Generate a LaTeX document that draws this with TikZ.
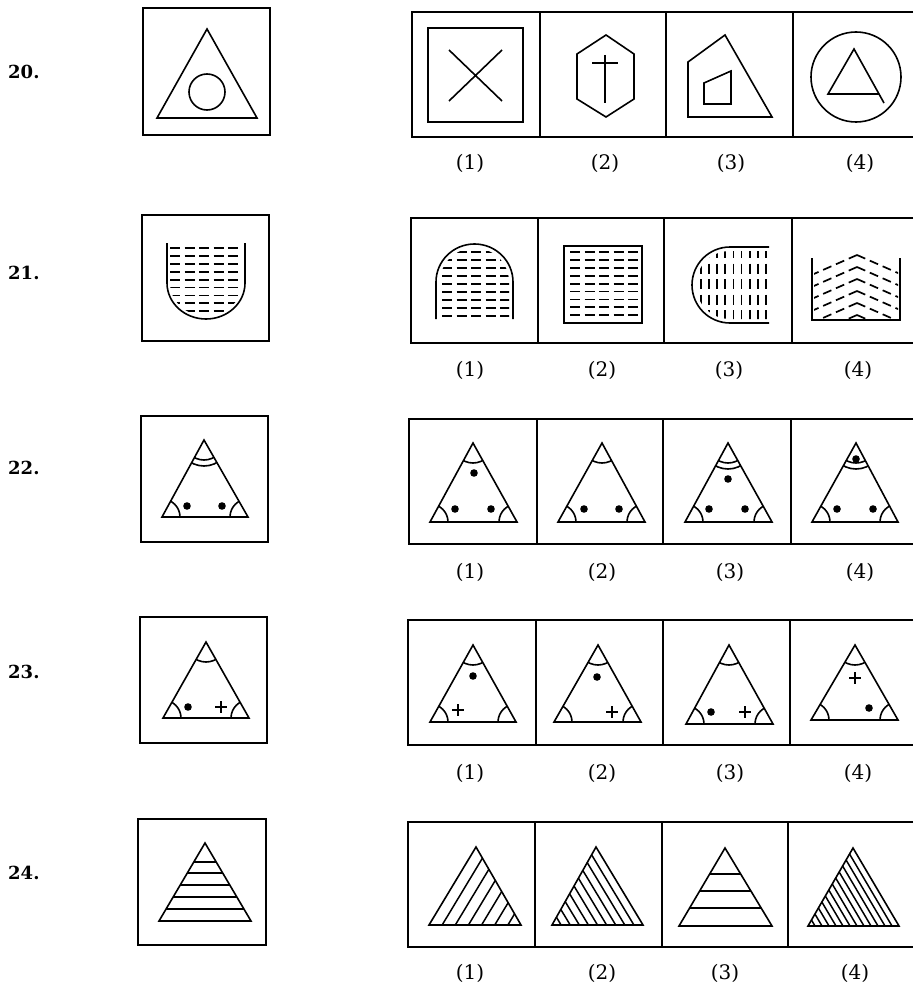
\documentclass[tikz,border=0pt]{standalone}
\usepackage{fontspec}
\newfontfamily\labelfont{DejaVu Serif}
\tikzset{
  fig/.style={line width=1.6pt, line join=miter},
  frame/.style={line width=1.5pt},
  dashrow/.style={line width=1.8pt, dash pattern=on 10pt off 4.5pt},
  dashcol/.style={line width=1.8pt, dash pattern=on 10pt off 5.5pt},
  chev/.style={line width=1.7pt, dash pattern=on 9pt off 5pt},
  hatch/.style={line width=1.5pt},
  optlabel/.style={font=\labelfont\fontsize{20}{24}\selectfont, inner sep=0pt},
  qnum/.style={font=\labelfont\bfseries\fontsize{18}{22}\selectfont, anchor=west, inner sep=0pt},
}
\newcommand{\anglestri}[6]{% apex x, apex y, left x, right x, base y, double arc (1/0)
  \draw[fig] (#1,#2) -- (#3,#5) -- (#4,#5) -- cycle;
  \begin{scope}
    \clip (#1,#2) -- (#3,#5) -- (#4,#5) -- cycle;
    \draw[fig] (#1,#2) circle[radius=20];
    \ifnum#6=1 \draw[fig] (#1,#2) circle[radius=26];\fi
    \draw[fig] (#3,#5) circle[radius=18];
    \draw[fig] (#4,#5) circle[radius=18];
  \end{scope}}
\newcommand{\dotat}[2]{\fill (#1,#2) circle[radius=3.8];}
\newcommand{\plusat}[2]{\draw[fig] (#1-6,#2) -- (#1+6,#2) (#1,#2-6) -- (#1,#2+6);}
\newcommand{\optstrip}[6]{% left, top, bottom, d1, d2, d3
  \draw[frame] (913,#2) -- (#1,#2) -- (#1,#3) -- (913,#3);
  \draw[frame] (#4,#2) -- (#4,#3) (#5,#2) -- (#5,#3) (#6,#2) -- (#6,#3);}
\begin{document}
\begin{tikzpicture}[x=1pt,y=-1pt]
\useasboundingbox (0,0) rectangle (913,987);
\fill[white] (0,0) rectangle (913,987);

% ---------------- Row 20 ----------------
\node[qnum] (q20) at (8,72) {20.};
\draw[frame] (143,8) rectangle (270,135);
\draw[fig] (207,29) -- (157,118) -- (257,118) -- cycle;
\draw[fig] (207,92) circle[radius=18];
\optstrip{412}{12}{137}{540}{666}{793}
% opt 1
\draw[fig] (428,28) rectangle (523,122);
\draw[fig] (449,50) -- (502,101) (502,50) -- (449,101);
% opt 2
\draw[fig] (606,35) -- (634,54) -- (634,99) -- (606,117) -- (577,99) -- (577,54) -- cycle;
\draw[fig] (605,55) -- (605,103) (592,63) -- (618,63);
% opt 3
\draw[fig] (688,117) -- (688,62) -- (725,35) -- (772,117) -- cycle;
\draw[fig] (704,83) -- (731,71) -- (731,104) -- (704,104) -- cycle;
% opt 4
\draw[fig] (856,77) circle[radius=45];
\draw[fig] (884,103) -- (854,49) -- (828,94) -- (879,94);
\node[optlabel] (l20a) at (470,163) {(1)};
\node[optlabel] (l20b) at (605,163) {(2)};
\node[optlabel] (l20c) at (731,163) {(3)};
\node[optlabel] (l20d) at (860,163) {(4)};

% ---------------- Row 21 ----------------
\node[qnum] (q21) at (8,273) {21.};
\draw[frame] (142,215) rectangle (269,341);
\draw[fig] (167,243) -- (167,283) arc[start angle=180, end angle=0, x radius=39, y radius=36] -- (245,243);
\begin{scope}
  \clip (170,240) -- (170,283) arc[start angle=180, end angle=0, x radius=36, y radius=33] -- (242,240) -- cycle;
  \foreach \k in {0,...,8} { \draw[dashrow] (170,248+7.9*\k) -- (244,248+7.9*\k); }
\end{scope}
\optstrip{411}{218}{343}{538}{664}{792}
% opt 1
\draw[fig] (436,319) -- (436,282) arc[start angle=180, end angle=360, x radius=38.5, y radius=38] -- (513,319);
\begin{scope}
  \clip (440,322) -- (440,282) arc[start angle=180, end angle=360, x radius=34.5, y radius=34] -- (509,322) -- cycle;
  \foreach \k in {0,...,8} { \draw[dashrow] (442,252+8*\k) -- (510,252+8*\k); }
\end{scope}
% opt 2
\draw[fig] (564,246) rectangle (642,323);
\foreach \k in {0,...,8} { \draw[dashrow] (570,252+7.9*\k) -- (638,252+7.9*\k); }
% opt 3
\draw[fig] (769,247) -- (730,247) arc[start angle=270, end angle=90, radius=38] -- (769,323);
\begin{scope}
  \clip (770,251) -- (730,251) arc[start angle=270, end angle=90, radius=34] -- (770,319) -- cycle;
  \foreach \k in {0,...,8} { \draw[dashcol] (701+8.1*\k,248) -- (701+8.1*\k,322); }
\end{scope}
% opt 4
\draw[fig] (812,258) -- (812,320) -- (900,320) -- (900,258);
\begin{scope}
  \clip (814,245) rectangle (898,318);
  \foreach \k in {0,...,5} {
    \draw[chev] (857,255+12*\k) -- ++(-50,22);
    \draw[chev] (857,255+12*\k) -- ++(50,22);
  }
\end{scope}
\node[optlabel] (l21a) at (470,370) {(1)};
\node[optlabel] (l21b) at (602,370) {(2)};
\node[optlabel] (l21c) at (729,370) {(3)};
\node[optlabel] (l21d) at (858,370) {(4)};

% ---------------- Row 22 ----------------
\node[qnum] (q22) at (8,468) {22.};
\draw[frame] (141,416) rectangle (268,542);
\anglestri{204}{440}{162}{248}{517}{1}
\dotat{187}{506} \dotat{222}{506}
\optstrip{409}{419}{544}{537}{663}{791}
\anglestri{473}{443}{430}{517}{522}{0}
\dotat{474}{473} \dotat{455}{509} \dotat{491}{509}
\anglestri{602}{443}{558}{645}{522}{0}
\dotat{584}{509} \dotat{619}{509}
\anglestri{728}{443}{685}{772}{522}{1}
\dotat{728}{479} \dotat{709}{509} \dotat{745}{509}
\anglestri{856}{443}{812}{898}{522}{1}
\dotat{856}{459} \dotat{837}{509} \dotat{873}{509}
\node[optlabel] (l22a) at (470,572) {(1)};
\node[optlabel] (l22b) at (602,572) {(2)};
\node[optlabel] (l22c) at (730,572) {(3)};
\node[optlabel] (l22d) at (860,572) {(4)};

% ---------------- Row 23 ----------------
\node[qnum] (q23) at (8,672) {23.};
\draw[frame] (140,617) rectangle (267,743);
\anglestri{206}{642}{163}{249}{718}{0}
\dotat{188}{707} \plusat{221}{707}
\optstrip{408}{620}{745}{536}{663}{790}
\anglestri{473}{645}{430}{516}{722}{0}
\dotat{473}{676} \plusat{458}{710}
\anglestri{598}{645}{554}{641}{722}{0}
\dotat{597}{677} \plusat{612}{712}
\anglestri{729}{645}{686}{773}{724}{0}
\dotat{711}{712} \plusat{745}{712}
\anglestri{855}{645}{811}{898}{720}{0}
\plusat{855}{678} \dotat{869}{708}
\node[optlabel] (l23a) at (470,773) {(1)};
\node[optlabel] (l23b) at (602,773) {(2)};
\node[optlabel] (l23c) at (730,773) {(3)};
\node[optlabel] (l23d) at (858,773) {(4)};

% ---------------- Row 24 ----------------
\node[qnum] (q24) at (8,873) {24.};
\draw[frame] (138,819) rectangle (266,945);
\draw[fig] (205,843) -- (159,921) -- (251,921) -- cycle;
\begin{scope}
  \clip (205,843) -- (159,921) -- (251,921) -- cycle;
  \foreach \yy in {862,873,885,897,909} { \draw[hatch] (150,\yy) -- (260,\yy); }
\end{scope}
\optstrip{408}{822}{947}{535}{662}{788}
% opt 1
\draw[fig] (476,847) -- (429,925) -- (521,925) -- cycle;
\begin{scope}
  \clip (476,847) -- (429,925) -- (521,925) -- cycle;
  \foreach \k in {1,...,6} { \draw[hatch] (429+\k*92/7,925) -- ++(47,-78); }
\end{scope}
% opt 2
\draw[fig] (596,847) -- (552,925) -- (643,925) -- cycle;
\begin{scope}
  \clip (596,847) -- (552,925) -- (643,925) -- cycle;
  \foreach \k in {1,...,9} { \draw[hatch] (552+\k*91/10,925) -- ++(-47,-78); }
\end{scope}
% opt 3
\draw[fig] (725,848) -- (679,926) -- (772,926) -- cycle;
\begin{scope}
  \clip (725,848) -- (679,926) -- (772,926) -- cycle;
  \foreach \yy in {874,891,908} { \draw[hatch] (670,\yy) -- (780,\yy); }
\end{scope}
% opt 4
\draw[fig] (853,848) -- (808,926) -- (899,926) -- cycle;
\begin{scope}
  \clip (853,848) -- (808,926) -- (899,926) -- cycle;
  \foreach \k in {1,...,12} { \draw[hatch] (808+\k*91/13,926) -- ++(-46,-78); }
\end{scope}
\node[optlabel] (l24a) at (470,973) {(1)};
\node[optlabel] (l24b) at (602,973) {(2)};
\node[optlabel] (l24c) at (725,973) {(3)};
\node[optlabel] (l24d) at (855,973) {(4)};
\end{tikzpicture}
\end{document}
